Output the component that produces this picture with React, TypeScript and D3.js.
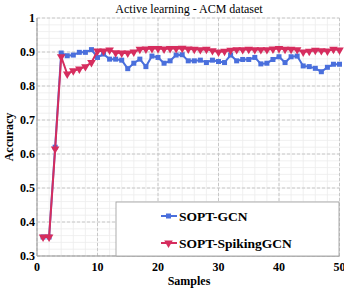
import React from "react";
import * as d3 from "d3";

const samples = d3.range(1, 51);
const gcn = [0.356, 0.356, 0.62, 0.897, 0.889, 0.891, 0.899, 0.899, 0.907, 0.884,
  0.894, 0.879, 0.879, 0.876, 0.851, 0.867, 0.879, 0.857, 0.888, 0.884,
  0.867, 0.874, 0.891, 0.892, 0.874, 0.874, 0.876, 0.869, 0.876, 0.872,
  0.869, 0.891, 0.874, 0.878, 0.878, 0.884, 0.865, 0.867, 0.878, 0.886,
  0.869, 0.886, 0.888, 0.859, 0.857, 0.852, 0.842, 0.855, 0.864, 0.864];
const spiking = [0.356, 0.356, 0.615, 0.886, 0.835, 0.845, 0.85, 0.857, 0.869, 0.903,
  0.903, 0.906, 0.898, 0.897, 0.897, 0.9, 0.908, 0.909, 0.91, 0.91,
  0.909, 0.91, 0.91, 0.911, 0.909, 0.908, 0.907, 0.908, 0.904, 0.9,
  0.902, 0.905, 0.907, 0.907, 0.908, 0.907, 0.907, 0.907, 0.909, 0.91,
  0.908, 0.908, 0.907, 0.9, 0.902, 0.905, 0.904, 0.903, 0.908, 0.906];
const xTicks = [0, 10, 20, 30, 40, 50];
const yTicks = [0.3, 0.4, 0.5, 0.6, 0.7, 0.8, 0.9, 1];

const BLUE = "#4a6fdc";
const RED = "#d62d5e";
const font = "'Liberation Serif', 'Times New Roman', serif";

const App = () => {
  const x = d3.scaleLinear().domain([0, 50]).range([37, 339.5]);
  const y = d3.scaleLinear().domain([0.3, 1]).range([256, 18]);
  const line = d3.line<number>().x((d, i) => x(samples[i])).y(d => y(d));
  const tri = d3.symbol().type(d3.symbolTriangle).size(32)();
  const minorX = d3.range(0, 50.1, 2);
  const minorY = d3.range(0.3, 1.001, 0.02);

  return (
    <svg width={344} height={291} style={{position: "absolute", left: 0, top: 0, fontFamily: font}}>
      <rect width={344} height={291} fill="white"/>
      {/* minor grid */}
      {minorX.map(v => <line key={"mx" + v} x1={x(v)} x2={x(v)} y1={y(0.3)} y2={y(1)} stroke="#ececec" strokeWidth={0.8}/>)}
      {minorY.map(v => <line key={"my" + v} x1={x(0)} x2={x(50)} y1={y(v)} y2={y(v)} stroke="#ececec" strokeWidth={0.8}/>)}
      {/* major grid */}
      {xTicks.map(v => <line key={"gx" + v} x1={x(v)} x2={x(v)} y1={y(0.3)} y2={y(1)} stroke="#c8c8c8" strokeDasharray="3,2"/>)}
      {yTicks.map(v => <line key={"gy" + v} x1={x(0)} x2={x(50)} y1={y(v)} y2={y(v)} stroke="#c8c8c8" strokeDasharray="3,2"/>)}
      {/* axes */}
      <line x1={x(0)} x2={x(0)} y1={y(0.3)} y2={y(1)} stroke="#999"/>
      <line x1={x(0)} x2={x(50)} y1={y(0.3)} y2={y(0.3)} stroke="#999"/>
      {xTicks.map(v => <text key={"tx" + v} x={x(v)} y={271} textAnchor="middle" fontSize={12} fontWeight="bold">{v}</text>)}
      {yTicks.map(v => <text key={"ty" + v} x={35} y={y(v) + 4} textAnchor="end" fontSize={12} fontWeight="bold">{v === 1 ? "1" : v.toFixed(1)}</text>)}
      <text x={189} y={285} textAnchor="middle" fontSize={12} fontWeight="bold">Samples</text>
      <text transform={`translate(13,${y(0.65)}) rotate(-90)`} textAnchor="middle" fontSize={12} fontWeight="bold">Accuracy</text>
      <text x={189} y={13} textAnchor="middle" fontSize={12}>Active learning - ACM dataset</text>
      {/* series */}
      <path d={line(gcn) || ""} fill="none" stroke={BLUE} strokeWidth={2}/>
      {gcn.map((v, i) => <rect key={"b" + i} x={x(samples[i]) - 2.5} y={y(v) - 2.5} width={5} height={5} fill={BLUE}/>)}
      <path d={line(spiking) || ""} fill="none" stroke={RED} strokeWidth={2}/>
      {spiking.map((v, i) => <path key={"r" + i} d={tri || ""} transform={`translate(${x(samples[i])},${y(v)}) rotate(180)`} fill={RED}/>)}
      {/* legend */}
      <rect x={116} y={202} width={223} height={54} fill="white" stroke="#999" strokeWidth={0.8}/>
      <line x1={161} x2={177} y1={216} y2={216} stroke={BLUE} strokeWidth={2}/>
      <rect x={166} y={213.5} width={5} height={5} fill={BLUE}/>
      <text x={179} y={220.5} fontSize={13.5} fontWeight="bold">SOPT-GCN</text>
      <line x1={161} x2={177} y1={243} y2={243} stroke={RED} strokeWidth={2}/>
      <path d={tri || ""} transform={`translate(168.5,243) rotate(180)`} fill={RED}/>
      <text x={179} y={247.5} fontSize={13.5} fontWeight="bold">SOPT-SpikingGCN</text>
    </svg>
  );
};

export default App;
